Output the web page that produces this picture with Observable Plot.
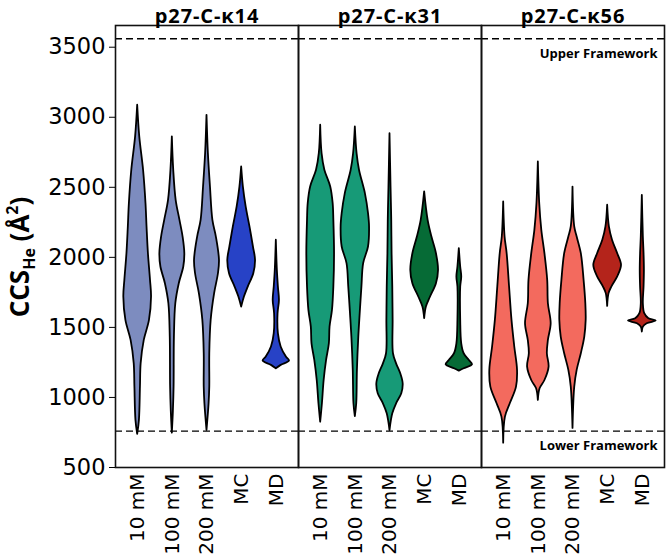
<!DOCTYPE html>
<html>
<head>
<meta charset="utf-8">
<script src="https://cdn.jsdelivr.net/npm/d3@7"></script>
<script src="https://cdn.jsdelivr.net/npm/@observablehq/plot@0.6"></script>
<style>
  html, body { margin: 0; padding: 0; background: #fff; }
  #chart svg { display: block; }
</style>
</head>
<body>
<div id="chart"></div>
<script>
// ---- data ----
const facets = ["p27-C-κ14", "p27-C-κ31", "p27-C-κ56"];
const categories = ["10 mM", "100 mM", "200 mM", "MC", "MD"];
const yTicks = [500, 1000, 1500, 2000, 2500, 3000, 3500];
const frameworkValues = [3560, 760];
const frameworkLabels = ["Upper Framework", "Lower Framework"];
const lightColors = ["#7d8cbf", "#179a77", "#f36a5e"];
const darkColors = ["#2742c6", "#066b36", "#b4241b"];

// violin profiles: [CCS (Å²), half-width (fraction of category step)]
const k14 = [
  [[3086,0],[2860,0.06],[2622,0.17],[2383,0.24],[2217,0.27],[2026,0.31],[1836,0.37],[1717,0.40],[1550,0.34],[1407,0.19],[1241,0.10],[1074,0.08],[836,0.05],[736,0]],
  [[2860,0],[2622,0.04],[2407,0.11],[2264,0.22],[2145,0.31],[2026,0.36],[1931,0.33],[1812,0.20],[1669,0.10],[1431,0.06],[1074,0.05],[900,0.03],[745,0]],
  [[3014,0],[2741,0.04],[2502,0.10],[2264,0.17],[2145,0.27],[1979,0.36],[1883,0.33],[1741,0.22],[1550,0.12],[1312,0.08],[1074,0.08],[955,0.06],[764,0]],
  [[2645,0],[2502,0.05],[2360,0.13],[2217,0.24],[2074,0.34],[1979,0.40],[1883,0.35],[1788,0.19],[1717,0.08],[1645,0]],
  [[2122,0],[1907,0.03],[1788,0.06],[1693,0.09],[1598,0.05],[1455,0.06],[1360,0.14],[1288,0.29],[1260,0.38],[1229,0.14],[1205,0]]
];
const k31 = [
  [[2943,0],[2740,0.04],[2622,0.12],[2502,0.29],[2383,0.36],[2264,0.38],[2026,0.40],[1788,0.38],[1621,0.34],[1502,0.27],[1383,0.25],[1264,0.17],[1121,0.10],[955,0.05],[823,0]],
  [[2931,0],[2740,0.05],[2622,0.12],[2455,0.29],[2312,0.38],[2217,0.41],[2074,0.38],[1955,0.24],[1788,0.19],[1598,0.14],[1431,0.10],[1193,0.06],[955,0.04],[864,0]],
  [[2883,0],[2502,0.03],[2264,0.05],[2026,0.06],[1788,0.08],[1550,0.09],[1312,0.10],[1240,0.19],[1169,0.31],[1098,0.38],[1026,0.34],[955,0.19],[883,0.08],[764,0]],
  [[2467,0],[2264,0.10],[2145,0.21],[2026,0.34],[1907,0.40],[1812,0.34],[1717,0.17],[1645,0.05],[1562,0]],
  [[2062,0],[1931,0.04],[1860,0.07],[1788,0.04],[1550,0.04],[1383,0.07],[1312,0.14],[1264,0.29],[1233,0.38],[1205,0.14],[1188,0]]
];
const k56 = [
  [[2395,0],[2145,0.04],[2026,0.10],[1788,0.17],[1550,0.24],[1360,0.32],[1193,0.40],[1074,0.37],[955,0.19],[860,0.05],[674,0]],
  [[2681,0],[2383,0.04],[2193,0.10],[2026,0.19],[1836,0.27],[1669,0.29],[1526,0.37],[1407,0.29],[1312,0.26],[1217,0.31],[1121,0.19],[1062,0.05],[979,0]],
  [[2502,0],[2217,0.05],[2145,0.12],[2026,0.24],[1836,0.32],[1669,0.37],[1550,0.38],[1431,0.34],[1312,0.24],[1193,0.12],[1074,0.05],[779,0]],
  [[2372,0],[2217,0.05],[2122,0.14],[2026,0.29],[1943,0.40],[1860,0.29],[1788,0.12],[1741,0.04],[1650,0]],
  [[2443,0],[2145,0.03],[2026,0.05],[1907,0.06],[1788,0.05],[1669,0.03],[1598,0.07],[1562,0.19],[1545,0.40],[1526,0.14],[1502,0.03],[1467,0]]
];
const profiles = [k14, k31, k56];

// ---- build table for the library ----
const rows = [];
profiles.forEach((facetProfiles, fi) => {
  facetProfiles.forEach((prof, ci) => {
    const color = ci < 3 ? lightColors[fi] : darkColors[fi];
    prof.slice().sort((a, b) => a[0] - b[0]).forEach(([v, w]) => {
      rows.push({facet: facets[fi], c: ci, key: fi + "-" + ci, v, w, color});
    });
  });
});
const frameworkText = frameworkValues.map((v, i) => ({facet: facets[2], v, label: frameworkLabels[i]}));

const xPad = 0.64;
const chart = Plot.plot({
  width: 666,
  height: 557,
  marginLeft: 114,
  marginRight: 1,
  marginTop: 25,
  marginBottom: 90,
  style: {fontFamily: "DejaVu Sans", background: "#fff", color: "#000"},
  fx: {domain: facets, padding: 0},
  x: {domain: [-xPad, categories.length - 1 + xPad]},
  y: {domain: [500, 3655]},
  marks: [
    Plot.areaX(rows, {
      fx: "facet", y: "v",
      x1: d => d.c - d.w, x2: d => d.c + d.w,
      z: "key", fill: "color", stroke: "#000", strokeWidth: 1.8,
      curve: "catmull-rom"
    }),
    Plot.ruleY(frameworkValues, {stroke: "#000", strokeWidth: 1.4, strokeDasharray: "7,4"}),
    Plot.text(frameworkText, {
      fx: "facet", y: "v", x: categories.length - 1 + xPad, text: "label",
      textAnchor: "end", dx: -7, dy: 15, fontSize: 13, fontWeight: "bold",
      fontFamily: "Open Sans", fill: "#000"
    }),
    Plot.frame({stroke: "#111", strokeWidth: 1.6}),
    Plot.axisY({ticks: yTicks, tickSize: 6, tickPadding: 4, fontSize: 22.5, label: null, tickFormat: d => String(d)}),
    Plot.axisX({ticks: d3.range(categories.length), tickFormat: i => categories[i], tickRotate: -90,
      tickSize: 0, tickPadding: 6, fontSize: 20, label: null}),
    Plot.axisFx({anchor: "top", tickSize: 0, tickPadding: 3, fontSize: 20, fontWeight: "bold",
      fontFamily: "Open Sans", label: null, className: "fxaxis"})
  ]
});
document.getElementById("chart").appendChild(chart);

const svg = d3.select(chart);
svg.selectAll(".fxaxis text").attr("letter-spacing", "0.9px");

// y-axis title with subscript and superscript
const t = svg.append("text")
  .attr("transform", "translate(29,257) rotate(-90)")
  .attr("text-anchor", "middle")
  .attr("font-family", "Open Sans")
  .attr("font-weight", "bold")
  .attr("font-size", 26)
  .attr("fill", "#000");
t.append("tspan").text("CCS");
t.append("tspan").attr("font-size", 16).attr("dy", 6).text("He");
t.append("tspan").attr("dy", -6).text(" (Å");
t.append("tspan").attr("font-size", 16).attr("dy", -11).text("2");
t.append("tspan").attr("dy", 11).text(")");
</script>
</body>
</html>
